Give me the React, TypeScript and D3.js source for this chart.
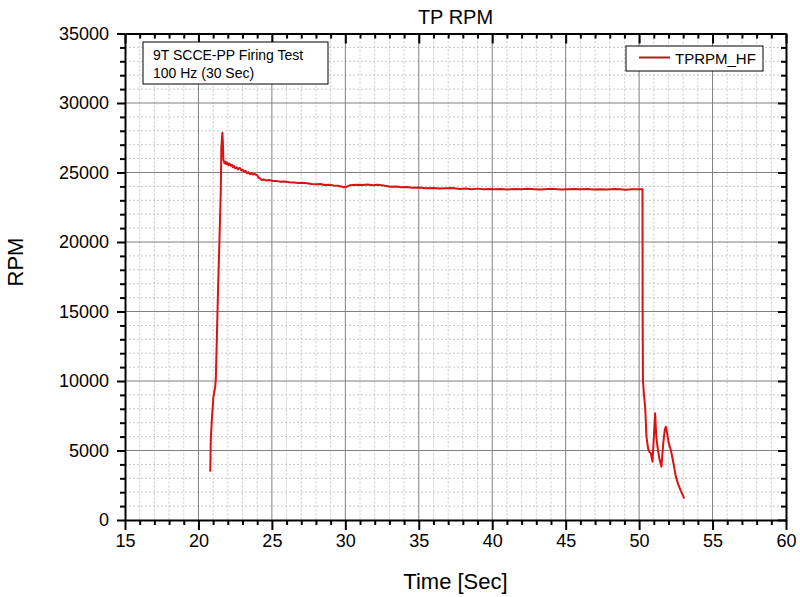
import React, { useEffect, useRef } from 'react'
import * as d3 from 'd3'

// time [sec] and RPM
const timeSec = [
  20.8, 20.82, 20.84, 20.91, 21.02, 21.14, 21.18, 21.25, 21.34, 21.43, 21.52, 21.56, 21.63, 21.66, 21.7,
  21.77, 21.85, 21.9, 21.98, 22.05, 22.12, 22.2, 22.28, 22.35, 22.42, 22.5, 22.6, 22.7, 22.77, 22.84,
  22.92, 23.0, 23.1, 23.2, 23.3, 23.4, 23.5, 23.6, 23.7, 23.8, 23.9, 23.98, 24.1, 24.2,
  24.3, 24.45, 24.6, 24.8, 25.1, 25.35, 25.6, 25.9, 26.2, 26.5, 26.8, 27.1, 27.4, 27.7, 28.0, 28.3, 28.6, 28.9, 29.2,
  29.5, 29.7, 29.9, 30.1, 30.3, 30.8, 31.2, 31.5, 31.9, 32.2, 32.6,
  33.07, 33.5, 33.8, 34.2, 34.6, 35.0, 35.5, 36.0, 36.4, 36.9, 37.3, 37.8, 38.2, 38.6, 39.0, 39.4, 39.8, 40.2, 40.6,
  41.0, 41.5, 42.0, 42.4, 42.9, 43.3, 43.8, 44.2, 44.7, 45.1, 45.6,
  46.0, 46.5, 46.9, 47.4, 47.8, 48.3, 48.7, 49.1, 49.5, 50.0, 50.2, 50.23, 50.24, 50.26, 50.33, 50.41, 50.5, 50.61, 50.7,
  50.8, 50.91, 51.0, 51.09, 51.17, 51.25, 51.38, 51.52, 51.65, 51.75, 51.82, 51.9, 52.0, 52.16, 52.3,
  52.5, 52.65, 52.84, 53.07,
]
const rpm = [
  3480, 4400, 5760, 7190, 8870, 9590, 10070, 12950, 16800, 20140, 23620, 26860, 27860, 27200, 25900,
  25660, 25780, 25600, 25700, 25520, 25640, 25480, 25560, 25380, 25470, 25300, 25380, 25220, 25320, 25300,
  25150, 25200, 25060, 25120, 24950, 25020, 24880, 24960, 24860, 24900, 24840, 24820, 24620, 24560,
  24460, 24500, 24420, 24460, 24390, 24380, 24330, 24350, 24300, 24280, 24250, 24260, 24220, 24180, 24150, 24170, 24100, 24120, 24060,
  24040, 24000, 23940, 23980, 24080, 24120, 24100, 24140, 24080, 24120, 24060,
  23980, 24000, 23940, 23960, 23900, 23920, 23870, 23890, 23850, 23870, 23880, 23820, 23850, 23800, 23840, 23790, 23820, 23800, 23820,
  23780, 23810, 23790, 23830, 23800, 23780, 23810, 23820, 23780, 23800, 23820,
  23790, 23810, 23770, 23800, 23780, 23810, 23790, 23760, 23790, 23800, 23790, 23790, 15000, 10070, 9000, 8150, 6000, 5150, 4900,
  4800, 4200, 5900, 7680, 6000, 5270, 4400, 3840, 5600, 6500, 6710, 6300, 5600, 5040, 4300,
  3120, 2600, 2100, 1560,
]

const xTicks = [15, 20, 25, 30, 35, 40, 45, 50, 55, 60]
const yTicks = [0, 5000, 10000, 15000, 20000, 25000, 30000, 35000]

const chartTitle = 'TP RPM'
const xTitle = 'Time [Sec]'
const yTitle = 'RPM'
const noteLines = ['9T SCCE-PP Firing Test', '100 Hz (30 Sec)']
const seriesName = 'TPRPM_HF'

const App = () => {
  const svgRef = useRef<SVGSVGElement>(null)

  useEffect(() => {
    const width = 800
    const height = 597
    const left = 125
    const right = 786
    const top = 33.5
    const bottom = 520
    const font = 'Arial, "Liberation Sans", sans-serif'

    const svg = d3.select(svgRef.current).attr('width', width).attr('height', height)
    svg.selectAll('*').remove()
    svg.append('rect').attr('width', width).attr('height', height).attr('fill', '#fff')

    const x = d3.scaleLinear().domain([15, 60]).range([left, right])
    const y = d3.scaleLinear().domain([0, 35000]).range([bottom, top])

    const xMinor = d3.range(15, 61, 1).filter((v) => v % 5 !== 0)
    const yMinor = d3.range(0, 35001, 1000).filter((v) => v % 5000 !== 0)

    // grid
    const grid = svg.append('g')
    grid.selectAll('.xm').data(xMinor).join('line')
      .attr('x1', (d) => x(d)).attr('x2', (d) => x(d)).attr('y1', top).attr('y2', bottom)
      .attr('stroke', '#c8c8c8').attr('stroke-dasharray', '2,2')
    grid.selectAll('.ym').data(yMinor).join('line').attr('class', 'ym')
      .attr('x1', left).attr('x2', right).attr('y1', (d) => y(d)).attr('y2', (d) => y(d))
      .attr('stroke', '#c8c8c8').attr('stroke-dasharray', '2,2')
    grid.selectAll('.xM').data(xTicks.slice(1, -1)).join('line').attr('class', 'xM')
      .attr('x1', (d) => x(d)).attr('x2', (d) => x(d)).attr('y1', top).attr('y2', bottom)
      .attr('stroke', '#808080')
    grid.selectAll('.yM').data(yTicks.slice(1, -1)).join('line').attr('class', 'yM')
      .attr('x1', left).attr('x2', right).attr('y1', (d) => y(d)).attr('y2', (d) => y(d))
      .attr('stroke', '#808080')

    // axes: outer ticks on bottom/left, inner ticks on top/right
    const styleAxis = (g: any) => {
      g.select('.domain').attr('stroke', '#000').attr('stroke-width', 2)
      g.selectAll('.tick line').attr('stroke', '#000').attr('stroke-width', 2)
      g.selectAll('text').attr('font-family', font).attr('font-size', 18).attr('fill', '#000')
    }
    const minor = (g: any) => g.selectAll('.tick line').attr('stroke-width', 2)

    svg.append('g').attr('transform', `translate(0,${bottom})`)
      .call(d3.axisBottom(x).tickValues(xMinor).tickSize(5).tickFormat(() => '').tickSizeOuter(0))
      .call(minor).call((g) => g.select('.domain').remove())
    svg.append('g').attr('transform', `translate(0,${bottom})`)
      .call(d3.axisBottom(x).tickValues(xTicks).tickSize(10).tickPadding(4).tickSizeOuter(0))
      .call(styleAxis)
    svg.append('g').attr('transform', `translate(${left},0)`)
      .call(d3.axisLeft(y).tickValues(yMinor).tickSize(5).tickFormat(() => '').tickSizeOuter(0))
      .call(minor).call((g) => g.select('.domain').remove())
    svg.append('g').attr('transform', `translate(${left},0)`)
      .call(d3.axisLeft(y).tickValues(yTicks).tickSize(8).tickPadding(8).tickFormat(d3.format('d')).tickSizeOuter(0))
      .call(styleAxis)
    svg.append('g').attr('transform', `translate(0,${top})`)
      .call(d3.axisBottom(x).tickValues(xMinor).tickSize(5).tickFormat(() => '').tickSizeOuter(0))
      .call(minor).call((g) => g.select('.domain').remove())
    svg.append('g').attr('transform', `translate(0,${top})`)
      .call(d3.axisBottom(x).tickValues(xTicks).tickSize(10).tickFormat(() => '').tickSizeOuter(0))
      .call(styleAxis)
    svg.append('g').attr('transform', `translate(${right},0)`)
      .call(d3.axisLeft(y).tickValues(yMinor).tickSize(5).tickFormat(() => '').tickSizeOuter(0))
      .call(minor).call((g) => g.select('.domain').remove())
    svg.append('g').attr('transform', `translate(${right},0)`)
      .call(d3.axisLeft(y).tickValues(yTicks).tickSize(8).tickFormat(() => '').tickSizeOuter(0))
      .call(styleAxis)

    // series
    const pts = timeSec.map((t, i) => [t, rpm[i]] as [number, number])
    const line = d3.line<[number, number]>().x((d) => x(d[0])).y((d) => y(d[1]))
    svg.append('path').datum(pts).attr('d', line).attr('fill', 'none')
      .attr('stroke', '#dd1111').attr('stroke-width', 2).attr('stroke-linejoin', 'round')

    // note box
    svg.append('rect').attr('x', 143).attr('y', 42).attr('width', 185).attr('height', 42)
      .attr('fill', '#fff').attr('stroke', '#000')
    svg.append('g').selectAll('text').data(noteLines).join('text')
      .attr('x', 153).attr('y', (_, i) => 60 + i * 18)
      .attr('font-family', font).attr('font-size', 14).text((d) => d)

    // legend
    svg.append('rect').attr('x', 626).attr('y', 46).attr('width', 137).attr('height', 25)
      .attr('fill', '#fff').attr('stroke', '#000')
    svg.append('line').attr('x1', 639).attr('x2', 670).attr('y1', 57.5).attr('y2', 57.5)
      .attr('stroke', '#b51e1e').attr('stroke-width', 2)
    svg.append('text').attr('x', 675).attr('y', 64).attr('font-family', font).attr('font-size', 15)
      .text(seriesName)

    // titles
    svg.append('text').attr('x', (left + right) / 2).attr('y', 24).attr('text-anchor', 'middle')
      .attr('font-family', font).attr('font-size', 20).text(chartTitle)
    svg.append('text').attr('x', (left + right) / 2).attr('y', 589).attr('text-anchor', 'middle')
      .attr('font-family', font).attr('font-size', 22).text(xTitle)
    svg.append('text').attr('transform', 'translate(23,262) rotate(-90)').attr('text-anchor', 'middle')
      .attr('font-family', font).attr('font-size', 22).text(yTitle)
  }, [])

  return <svg ref={svgRef} style={{ position: 'absolute', left: 0, top: 0, display: 'block' }}></svg>
}

export default App
